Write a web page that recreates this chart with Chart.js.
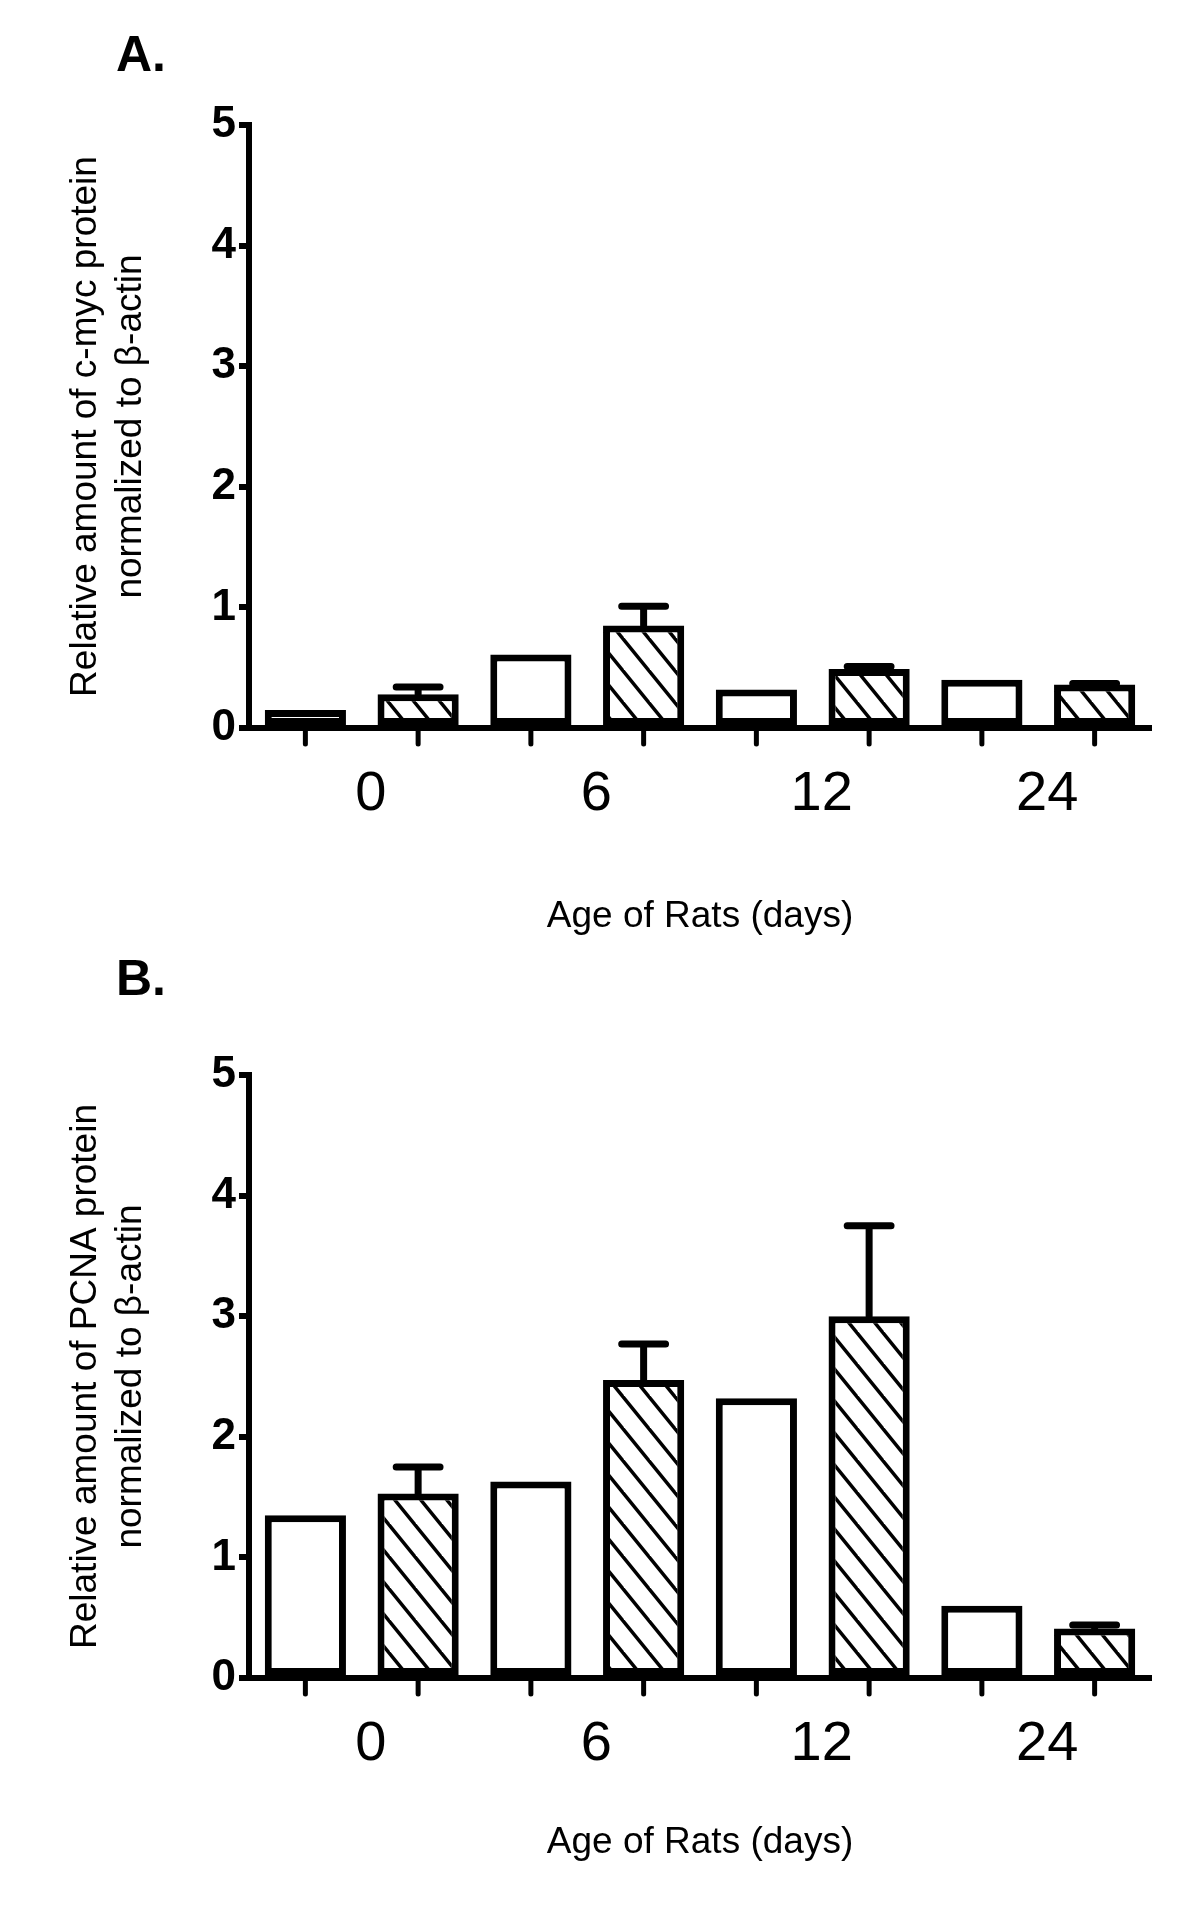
<!DOCTYPE html>
<html>
<head>
<meta charset="utf-8">
<script src="https://cdn.jsdelivr.net/npm/chart.js"></script>
<style>
  html, body { margin: 0; padding: 0; background: #fff; }
  .panel { position: absolute; left: 0; width: 1200px; height: 950px; }
</style>
</head>
<body>
<div class="panel" style="top:0"><canvas id="chartA" width="1200" height="950"></canvas></div>
<div class="panel" style="top:950px"><canvas id="chartB" width="1200" height="950"></canvas></div>
<script>
// categories (age of rats, days)
const ages = ['0', '6', '12', '24'];
const yTicks = [0, 1, 2, 3, 4, 5];

// panel A: c-myc
const mycOpen = [0.15, 0.61, 0.32, 0.40];
const mycHatched = [0.28, 0.85, 0.49, 0.36];
const mycErrTop = [0.34, 1.01, 0.51, 0.37];

// panel B: PCNA
const pcnaOpen = [1.35, 1.63, 2.32, 0.60];
const pcnaHatched = [1.53, 2.47, 3.00, 0.41];
const pcnaErrTop = [1.75, 2.77, 3.75, 0.44];

const FONT = "'Liberation Sans', Arial, sans-serif";

// diagonal hatch pattern
function makeHatch() {
    const w = 26, h = 32;
    const c = document.createElement('canvas');
    c.width = w; c.height = h;
    const g = c.getContext('2d');
    g.fillStyle = '#fff';
    g.fillRect(0, 0, w, h);
    g.strokeStyle = '#000';
    g.lineWidth = 3.5;
    for (let i = -1; i <= 1; i++) {
        g.beginPath();
        g.moveTo(i * w - w, -h);
        g.lineTo(i * w + 2 * w, 2 * h);
        g.stroke();
    }
    return g.createPattern(c, 'repeat');
}
const hatch = makeHatch();

// error bars (upper only) on the hatched series, plus tick marks under each bar
const extrasPlugin = {
    id: 'extras',
    afterDatasetsDraw(chart, args, opts) {
        const ctx = chart.ctx;
        const y = chart.scales.y;
        const meta = chart.getDatasetMeta(1);
        ctx.save();
        ctx.strokeStyle = '#000';
        ctx.lineWidth = 7;
        ctx.lineCap = 'round';
        meta.data.forEach((bar, i) => {
            const top = y.getPixelForValue(opts.errTop[i]);
            const half = bar.width * 0.27;
            ctx.beginPath();
            ctx.moveTo(bar.x, bar.y);
            ctx.lineTo(bar.x, top);
            ctx.moveTo(bar.x - half, top);
            ctx.lineTo(bar.x + half, top);
            ctx.stroke();
        });
        ctx.restore();
    },
    afterDraw(chart, args, opts) {
        const ctx = chart.ctx;
        const bottom = chart.chartArea.bottom;
        ctx.save();
        ctx.strokeStyle = '#000';
        ctx.lineWidth = 5;
        ctx.lineCap = 'round';
        [0, 1].forEach(d => {
            chart.getDatasetMeta(d).data.forEach(bar => {
                ctx.beginPath();
                ctx.moveTo(bar.x, bottom);
                ctx.lineTo(bar.x, bottom + 16);
                ctx.stroke();
            });
        });
        // panel letter
        ctx.fillStyle = '#000';
        ctx.font = 'bold 50px ' + FONT;
        ctx.textBaseline = 'middle';
        ctx.fillText(opts.letter, 116, opts.letterY);
        ctx.restore();
    }
};

function makeChart(id, openVals, hatchVals, errTop, yTitle, letter, letterY, titlePad) {
    return new Chart(document.getElementById(id), {
        type: 'bar',
        data: {
            labels: ages,
            datasets: [{
                data: openVals,
                backgroundColor: '#fff',
                borderColor: '#000',
                borderWidth: 7,
                borderSkipped: false
            }, {
                data: hatchVals,
                backgroundColor: hatch,
                borderColor: '#000',
                borderWidth: 7,
                borderSkipped: false
            }]
        },
        options: {
            responsive: false,
            animation: false,
            categoryPercentage: 1.0,
            barPercentage: 0.72,
            layout: { padding: { top: 125, right: 49, left: 0, bottom: 0 } },
            plugins: {
                legend: { display: false },
                tooltip: { enabled: false },
                extras: { errTop: errTop, letter: letter, letterY: letterY }
            },
            scales: {
                x: {
                    afterFit(scale) { scale.height = 222; },
                    grid: { display: false, drawTicks: false },
                    border: { display: true, color: '#000', width: 6 },
                    ticks: {
                        color: '#000',
                        padding: 33,
                        labelOffset: 9,
                        font: { family: FONT, size: 56 }
                    },
                    title: {
                        display: true,
                        text: 'Age of Rats (days)',
                        color: '#000',
                        font: { family: FONT, size: 37 },
                        padding: { top: 0, bottom: titlePad }
                    }
                },
                y: {
                    min: 0,
                    max: 5,
                    afterFit(scale) { scale.width = 249; },
                    afterBuildTicks(scale) { scale.ticks = yTicks.map(v => ({ value: v })); },
                    grid: {
                        drawOnChartArea: false,
                        drawTicks: true,
                        tickLength: 10,
                        lineWidth: 6,
                        color: '#000'
                    },
                    border: { display: true, color: '#000', width: 6 },
                    ticks: {
                        color: '#000',
                        padding: 3,
                        font: { family: FONT, size: 44, weight: 'bold' }
                    },
                    title: {
                        display: true,
                        text: yTitle,
                        color: '#000',
                        font: { family: FONT, size: 37, lineHeight: 1.2 },
                        padding: { top: 64, bottom: 0 }
                    }
                }
            }
        },
        plugins: [extrasPlugin]
    });
}

makeChart('chartA', mycOpen, mycHatched, mycErrTop,
    ['Relative amount of c-myc protein', 'normalized to \u03b2-actin'], 'A.', 57, 11);
makeChart('chartB', pcnaOpen, pcnaHatched, pcnaErrTop,
    ['Relative amount of PCNA protein', 'normalized to \u03b2-actin'], 'B.', 31, 35);
</script>
</body>
</html>
